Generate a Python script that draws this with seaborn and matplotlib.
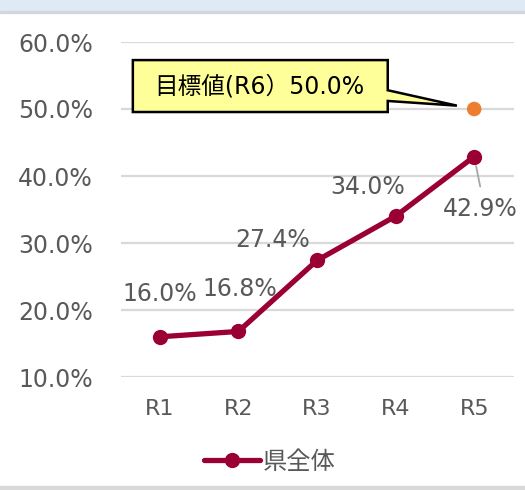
import matplotlib
matplotlib.use("Agg")
import pandas as pd
import seaborn as sns
import matplotlib.pyplot as plt
from matplotlib.patches import Polygon, Rectangle

# Datos
anios = ["R1", "R2", "R3", "R4", "R5"]
valores = [16.0, 16.8, 27.4, 34.0, 42.9]
serie = "県全体"
meta_x = "R5"
meta_valor = 50.0
meta_texto = "目標値(R6）50.0%"
yticks = [10, 20, 30, 40, 50, 60]

# Posición de cada etiqueta (desplazamiento en píxeles)
offsets = [(0, 43), (1, 42), (-44, 20), (-28, 29), (6, -52)]

color_linea = "#9B0035"
color_meta = "#ED7D31"
gris = "#595959"

sns.set_theme(style="white")
plt.rcParams["font.family"] = ["DejaVu Sans", "Noto Sans CJK JP"]

df = pd.DataFrame({"anio": anios, "valor": valores, "serie": serie})

fig = plt.figure(figsize=(5.25, 4.9), dpi=100)
ax = fig.add_axes([120.5 / 525, 113 / 490, 393 / 525, 335 / 490])

# Bandas decorativas del marco
fig.patches.append(Rectangle((0, 1 - 11 / 490), 1, 11 / 490, transform=fig.transFigure,
                             color="#DEEAF6", zorder=0))
fig.patches.append(Rectangle((0, 1 - 13.5 / 490), 1, 2.5 / 490, transform=fig.transFigure,
                             color="#D4D8DE", zorder=0))
fig.patches.append(Rectangle((0, 0), 1, 4 / 490, transform=fig.transFigure,
                             color="#D9D9D9", zorder=0))

sns.lineplot(data=df, x="anio", y="valor", hue="serie", palette=[color_linea],
             marker="o", markersize=11, linewidth=3.8, markeredgewidth=0,
             ax=ax, zorder=3, legend=False)
sns.scatterplot(x=[meta_x], y=[meta_valor], color=color_meta, s=110,
                edgecolor="none", ax=ax, zorder=4)

# Etiquetas de datos
for i, v in enumerate(valores):
    dx, dy = offsets[i]
    ax.annotate(f"{v:.1f}%", xy=(i, v), xytext=(dx, dy), textcoords="offset pixels",
                ha="center", va="center", fontsize=17, color=gris, zorder=5)
# línea guía de R5
ax.annotate("", xy=(4, valores[4]), xytext=(6, -30), textcoords="offset pixels",
            arrowprops=dict(arrowstyle="-", color="#A6A6A6", lw=1.3, shrinkA=0, shrinkB=7))

# Globo del objetivo
globo = Polygon([(-0.343, 57.3), (2.90, 57.3), (2.90, 52.8), (3.78, 50.5),
                 (2.90, 51.2), (2.90, 49.55), (-0.343, 49.55)],
                closed=True, facecolor="#FFFF99", edgecolor="black", lw=1.8,
                zorder=6, clip_on=False)
ax.add_patch(globo)
ax.text(1.27, 53.4, meta_texto, ha="center", va="center", fontsize=17,
        color="black", zorder=7)

ax.set_xlim(-0.5, 4.5)
ax.set_ylim(10, 60)
ax.set_yticks(yticks)
ax.set_yticklabels([f"{t:.1f}%" for t in yticks])
ax.set_xlabel("")
ax.set_ylabel("")
ax.tick_params(axis="y", length=0, pad=20, labelsize=17, labelcolor=gris)
ax.tick_params(axis="x", length=0, pad=16, labelsize=16, labelcolor=gris)
ax.yaxis.grid(True, color="#D9D9D9", lw=1.6)
ax.set_axisbelow(True)
sns.despine(ax=ax, left=True, bottom=True)

handle = plt.Line2D([], [], color=color_linea, lw=3.8, marker="o", markersize=11,
                    markeredgewidth=0)
fig.legend([handle], [serie], loc="center", bbox_to_anchor=(270 / 525, 28 / 490),
           frameon=False, fontsize=17.5, labelcolor=gris, handlelength=2.3,
           handletextpad=0.1)

fig.savefig("out.png", dpi=100)
